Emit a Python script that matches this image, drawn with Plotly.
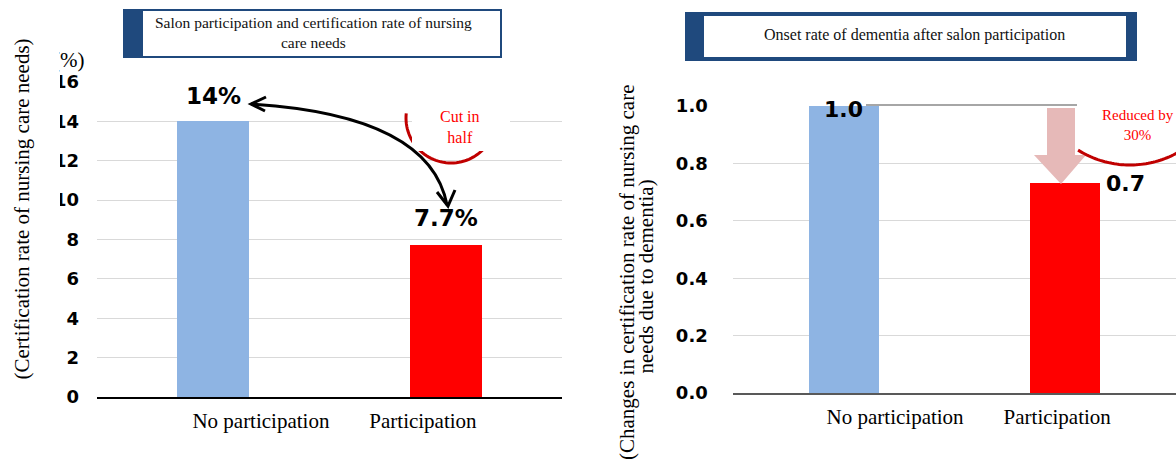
import numpy as np
import plotly.graph_objects as go

W, H = 1176, 462

# Data
categories = ["No participation", "Participation"]
cert_rate = [14.0, 7.7]            # certification rate of nursing care needs (%)
cert_labels = ["14%", "7.7%"]
onset_ratio = [1.0, 0.73]          # relative onset of dementia
onset_labels = ["1.0", "0.7"]
bar_colors = ["#8EB4E3", "#FF0000"]

left_ticks = [0, 2, 4, 6, 8, 10, 12, 14, 16]
right_ticks = [0.0, 0.2, 0.4, 0.6, 0.8, 1.0]

left_title = "Salon participation and certification rate of nursing<br>care needs"
right_title = "Onset rate of dementia after salon participation"
left_ytitle = "(Certification rate of nursing care needs)"
right_ytitle_1 = "(Changes in certification rate of nursing care"
right_ytitle_2 = "needs due to dementia)"

SERIF = "Liberation Serif, Times New Roman, serif"
SANS = "DejaVu Sans, Verdana, sans-serif"
NAVY = "#1F497D"


def px(x):
    return x / W


def py(y):
    return 1 - y / H


def rect(x0, y0, x1, y1, fill):
    return dict(type="rect", xref="paper", yref="paper", layer="above",
                x0=px(x0), x1=px(x1), y0=py(y1), y1=py(y0),
                fillcolor=fill, line=dict(width=0))


def arc_path(cx, cy, r, a0, a1, n=48):
    t = np.radians(np.linspace(a0, a1, n))
    pts = [f"{px(cx + r * np.cos(a)):.5f},{py(cy + r * np.sin(a)):.5f}" for a in t]
    return "M " + " L ".join(pts)


def poly_path(points, close=False):
    s = "M " + " L ".join(f"{px(x):.5f},{py(y):.5f}" for x, y in points)
    return s + (" Z" if close else "")


fig = go.Figure()

# Bars
fig.add_trace(go.Bar(x=[0, 1], y=cert_rate, marker_color=bar_colors, width=0.31,
                     marker_line_width=0, xaxis="x", yaxis="y", hoverinfo="skip"))
fig.add_trace(go.Bar(x=[0, 1], y=onset_ratio, marker_color=bar_colors, width=0.316,
                     marker_line_width=0, xaxis="x2", yaxis="y2", hoverinfo="skip"))

axis_common = dict(showgrid=False, showline=True, ticks="", zeroline=False, automargin=False,
                   tickfont=dict(family=SERIF, size=21, color="black"),
                   ticklabelstandoff=4, fixedrange=True)
yaxis_common = dict(showgrid=True, gridcolor="#D9D9D9", gridwidth=1, zeroline=False,
                    ticks="", showline=False, fixedrange=True, automargin=False,
                    tickfont=dict(family=SANS, size=18, color="black", weight="bold"))

fig.update_layout(
    width=W, height=H,
    margin=dict(l=0, r=0, t=0, b=0, pad=0, autoexpand=False),
    paper_bgcolor="white", plot_bgcolor="white",
    showlegend=False, bargap=0,
    xaxis=dict(domain=[px(97), px(562)], range=[-0.5, 1.5],
               tickvals=[0.205, 0.902], ticktext=categories,
               linecolor="black", linewidth=1.5, anchor="y", **axis_common),
    yaxis=dict(domain=[py(397), py(82)], range=[0, 16], tickvals=left_ticks,
               ticklabelstandoff=17, anchor="x", **yaxis_common),
    xaxis2=dict(domain=[px(732.75), 1.0], range=[-0.5, 1.5],
                tickvals=[0.2325, 0.964], ticktext=categories,
                linecolor="#595959", linewidth=2, anchor="y2", **axis_common),
    yaxis2=dict(domain=[py(393), py(106)], range=[0, 1.0], tickvals=right_ticks,
                tickformat=".1f", ticklabelstandoff=24, anchor="x2", **yaxis_common),
)

shapes = [
    # cropped left edge of the original figure (cuts the two-digit tick labels)
    rect(0, 38, 60, 230, "white"),
    # title boxes
    rect(123, 9, 502, 58, NAVY),
    rect(143, 11, 500, 56, "white"),
    rect(685, 12, 1137, 61, NAVY),
    rect(704, 16, 1126, 57, "white"),
    # left: red arc behind "Cut in half"
    dict(type="path", xref="paper", yref="paper", layer="above",
         path=arc_path(451, 118, 45, 186, 30), line=dict(color="#C00000", width=3)),
    rect(412, 96, 510, 151, "white"),
    # left: curved double arrow
    dict(type="path", xref="paper", yref="paper", layer="above",
         path=f"M {px(251)},{py(104)} Q {px(430)},{py(115)} {px(447)},{py(205)}",
         line=dict(color="black", width=3)),
    dict(type="path", xref="paper", yref="paper", layer="above",
         path=poly_path([(266, 97), (251, 104), (265, 111)]),
         line=dict(color="black", width=3)),
    dict(type="path", xref="paper", yref="paper", layer="above",
         path=poly_path([(437, 192), (448, 206), (455, 190)]),
         line=dict(color="black", width=3)),
    # right: reference line, down arrow, arc
    dict(type="line", xref="paper", yref="paper", layer="above",
         x0=px(866), x1=px(1077), y0=py(105), y1=py(105),
         line=dict(color="#A6A6A6", width=2)),
    rect(1077, 98, 1176, 146, "white"),
    dict(type="path", xref="paper", yref="paper", layer="above",
         path=poly_path([(1047, 108), (1075, 108), (1075, 155), (1086, 155),
                         (1061, 184), (1034, 155), (1047, 155)], close=True),
         fillcolor="#E6B9B8", line=dict(width=0)),
    dict(type="path", xref="paper", yref="paper", layer="above",
         path=arc_path(1130, 67, 98, 122, 55), line=dict(color="#C00000", width=3)),
]
fig.update_layout(shapes=shapes)

annotations = [
    dict(x=px(313), y=py(33), text=left_title, font=dict(family=SERIF, size=15.5, color="#111111")),
    dict(x=px(914), y=py(35), text=right_title, font=dict(family=SERIF, size=16, color="#111111")),
    # unit label, then a white patch for the cropped left edge
    dict(x=px(86), y=py(60), xanchor="right", text="(%)",
         font=dict(family=SERIF, size=21, color="black")),
    dict(x=0, y=py(45), xanchor="left", yanchor="top", text="&nbsp;", width=59, height=30,
         bgcolor="white", borderpad=0, borderwidth=0, font=dict(size=10, color="white")),
    dict(x=px(21), y=py(209.5), text=left_ytitle, textangle=-90,
         font=dict(family=SERIF, size=21, color="black")),
    dict(x=px(627), y=py(272), text=right_ytitle_1, textangle=-90,
         font=dict(family=SERIF, size=21, color="black")),
    dict(x=px(645.5), y=py(277), text=right_ytitle_2, textangle=-90,
         font=dict(family=SERIF, size=21, color="black")),
    dict(x=px(460), y=py(127), text="Cut in<br>half",
         font=dict(family=SERIF, size=16, color="#FF0000")),
    dict(x=px(1138), y=py(125), text="Reduced by<br>30%",
         font=dict(family=SERIF, size=15, color="#FF0000")),
]
for a in annotations:
    a.setdefault("xanchor", "center")
    a.setdefault("yanchor", "middle")
    a.update(xref="paper", yref="paper", showarrow=False)

# Value labels, anchored to the bars
for i, (v, lab) in enumerate(zip(cert_rate, cert_labels)):
    annotations.append(dict(x=i, y=v, xref="x", yref="y", text=lab, showarrow=False,
                            yanchor="middle", yshift=25 if i == 0 else 27,
                            font=dict(family=SANS, size=23, color="black", weight="bold")))
for i, (v, lab) in enumerate(zip(onset_ratio, onset_labels)):
    annotations.append(dict(x=i, y=v, xref="x2", yref="y2", text=lab, showarrow=False,
                            yanchor="middle", xshift=0 if i == 0 else 60,
                            yshift=-3.5 if i == 0 else 0,
                            font=dict(family=SANS, size=22, color="black", weight="bold")))
fig.update_layout(annotations=annotations)

fig.write_html("out.html", config={"displayModeBar": False},
               post_script="document.body.style.margin='0';document.body.style.overflow='hidden';")
